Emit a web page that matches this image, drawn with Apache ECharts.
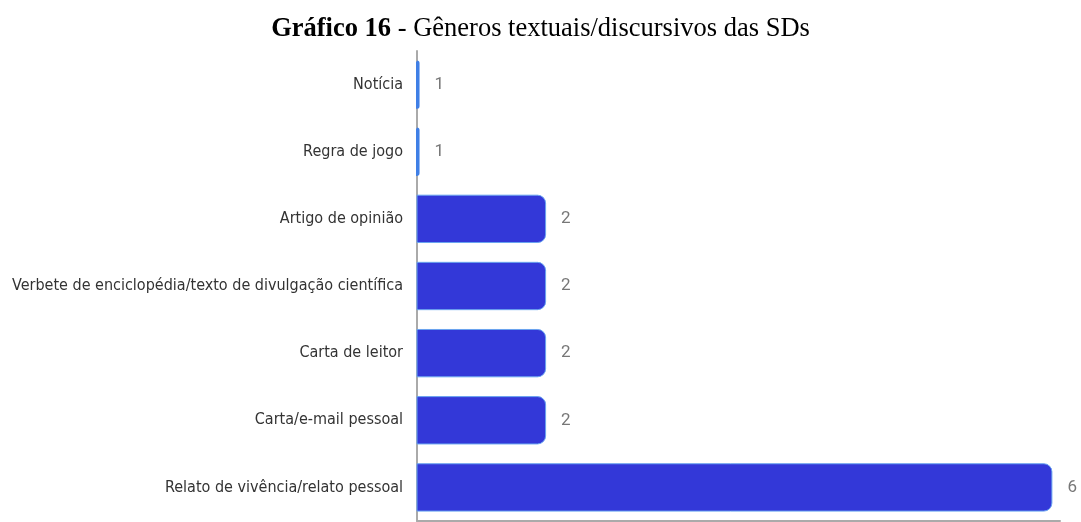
<!DOCTYPE html>
<html><head><meta charset="utf-8">
<script src="https://cdn.jsdelivr.net/npm/echarts@6/dist/echarts.min.js"></script>
<style>html,body{margin:0;padding:0;background:#fff}#c{width:1081px;height:522px}</style>
</head><body><div id="c"></div>
<script>
const categories = ["Notícia","Regra de jogo","Artigo de opinião","Verbete de enciclopédia/texto de divulgação científica","Carta de leitor","Carta/e-mail pessoal","Relato de vivência/relato pessoal"];
const values = [1,1,2,2,2,2,6];
const chart = echarts.init(document.getElementById('c'));
chart.setOption({
  animation:false,
  title:{
    text:'{b|Gráfico 16} - Gêneros textuais/discursivos das SDs',
    left:'center', top:11,
    textStyle:{fontFamily:'Liberation Serif', fontSize:26.5, fontWeight:'normal', color:'#000',
      rich:{b:{fontFamily:'Liberation Serif', fontSize:26.5, fontWeight:'bold', color:'#000'}}}
  },
  grid:{left:417, right:21, top:51, bottom:1, containLabel:false},
  xAxis:{type:'value', min:0.98, max:6.06, splitLine:{show:false}, axisLabel:{show:false}, axisTick:{show:false},
    axisLine:{show:true, lineStyle:{color:'#aaa', width:2}}},
  yAxis:{type:'category', inverse:true, data:categories,
    axisLine:{show:true, lineStyle:{color:'#aaa', width:2}}, axisTick:{show:false},
    axisLabel:{margin:14, fontFamily:'DejaVu Sans Condensed', fontSize:16, color:'#333'}},
  series:[{type:'bar', barWidth:'72%',
    data: values.map(v=>({value:v, itemStyle: v<=1 ? {color:'rgba(0,0,0,0)', borderColor:'#3f7fe6', borderWidth:2, borderRadius:[0,6,6,0]} : {color:'#3338d8', borderColor:'#6aa5f0', borderWidth:1, borderRadius:[0,8,8,0]}})),
    label:{show:true, position:'right', distance:15, fontFamily:'Roboto', fontSize:17, color:'#777'}
  }]
});
</script></body></html>
